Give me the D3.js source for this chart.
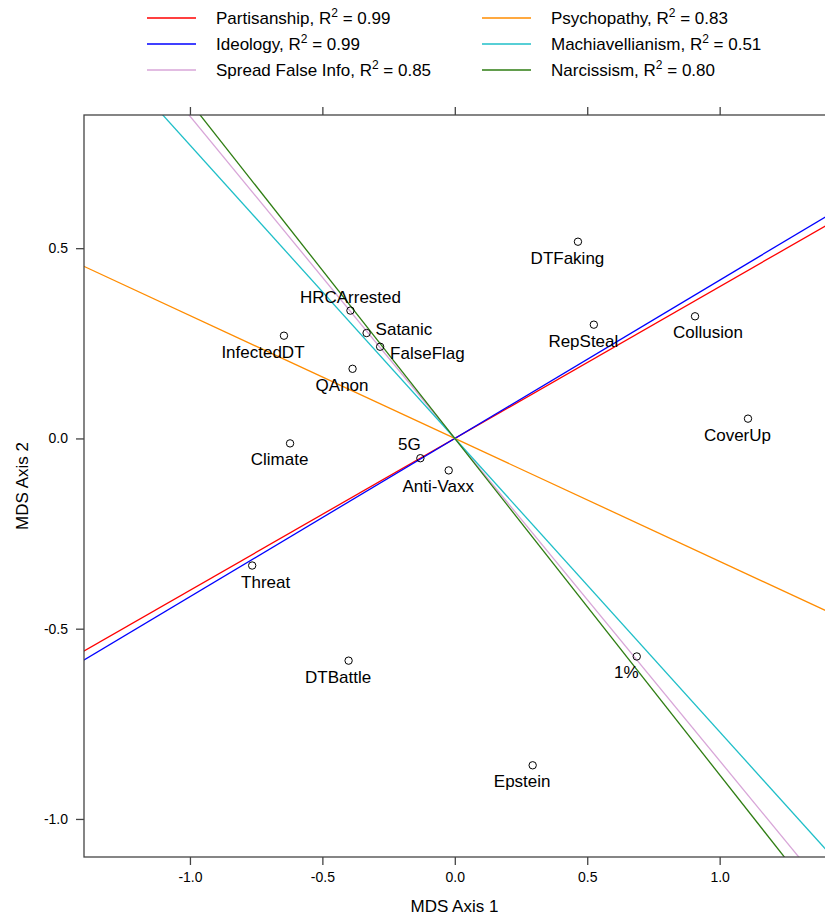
<!DOCTYPE html>
<html>
<head>
<meta charset="utf-8">
<script src="https://cdn.jsdelivr.net/npm/d3@7"></script>
<style>
  html, body { margin: 0; padding: 0; background: #fff; }
  svg { display: block; font-family: "Liberation Sans", Arial, sans-serif; }
</style>
</head>
<body>
<svg id="chart" width="825" height="915"></svg>
<script>
// ---- Data ----
const conspiracies = ["DTFaking","RepSteal","Collusion","CoverUp","HRCArrested","Satanic","FalseFlag","InfectedDT","QAnon","Climate","5G","Anti-Vaxx","Threat","DTBattle","1%","Epstein"];
const mdsAxis1 = [0.465, 0.525, 0.907, 1.107, -0.394, -0.333, -0.282, -0.645, -0.386, -0.622, -0.130, -0.023, -0.765, -0.401, 0.687, 0.294];
const mdsAxis2 = [0.517, 0.299, 0.321, 0.052, 0.336, 0.277, 0.241, 0.270, 0.183, -0.013, -0.052, -0.084, -0.334, -0.584, -0.573, -0.859];

const vectorNames = ["Partisanship","Ideology","Spread False Info","Psychopathy","Machiavellianism","Narcissism"];
const vectorR2 = ["0.99","0.99","0.85","0.83","0.51","0.80"];
const vectorSlopes = [0.399, 0.416, -0.847, -0.323, -0.771, -0.884];

const xTicks = [-1.0, -0.5, 0.0, 0.5, 1.0];
const yTicks = [-1.0, -0.5, 0.0, 0.5];

// ---- Styles / layout (not data) ----
const vectorColors = ["#ff0000","#0000ff","#d8a6d8","#ff8c00","#1fbfc8","#2e7d12"];
const labelPlacement = {
  "HRCArrested": {dx: 0, dy: -14, anchor: "middle"},
  "Satanic": {dx: 9, dy: -4, anchor: "start"},
  "FalseFlag": {dx: 10, dy: 6, anchor: "start"},
  "InfectedDT": {dx: -21, dy: 16, anchor: "middle"},
  "5G": {dx: -11, dy: -14, anchor: "middle"},
  "Collusion": {dx: 13, dy: 16, anchor: "middle"},
  "Threat": {dx: 13.5, dy: 16, anchor: "middle"}
};
const defaultPlacement = {dx: -10.5, dy: 16, anchor: "middle"};
const textColor = "#000";

const svg = d3.select("#chart");
const pLeft = 84, pRight = 826, pTop = 115, pBottom = 857;

const x = d3.scaleLinear().domain([-1.4, 1.4]).range([pLeft, pLeft + 741.6]);
const y = d3.scaleLinear().domain([-1.1, 0.85]).range([pBottom, pTop]);

// Clip
svg.append("defs").append("clipPath").attr("id", "plotclip")
  .append("rect").attr("x", pLeft).attr("y", pTop).attr("width", pRight - pLeft).attr("height", pBottom - pTop);

// Vector lines (through origin)
const lines = svg.append("g").attr("clip-path", "url(#plotclip)");
vectorSlopes.forEach((s, i) => {
  const x0 = -3, x1 = 3;
  lines.append("line")
    .attr("x1", x(x0)).attr("y1", y(s * x0))
    .attr("x2", x(x1)).attr("y2", y(s * x1))
    .attr("stroke", vectorColors[i]).attr("stroke-width", 1.3);
});

// Points
const pts = svg.append("g");
conspiracies.forEach((name, i) => {
  const px = x(mdsAxis1[i]), py = y(mdsAxis2[i]);
  pts.append("circle").attr("cx", px).attr("cy", py).attr("r", 3.7)
    .attr("fill", "none").attr("stroke", "#000").attr("stroke-width", 1);
  const p = labelPlacement[name] || defaultPlacement;
  pts.append("text").attr("x", px + p.dx).attr("y", py + p.dy + 6)
    .attr("text-anchor", p.anchor).attr("font-size", 17).attr("fill", textColor)
    .text(name);
});

// Frame
svg.append("rect").attr("x", pLeft).attr("y", pTop).attr("width", pRight - pLeft).attr("height", pBottom - pTop)
  .attr("fill", "none").attr("stroke", "#444").attr("stroke-width", 1.3);

// Axes
const fmt = d => d3.format(".1f")(d).replace("−", "-");
const xAxisB = d3.axisBottom(x).tickValues(xTicks).tickSize(8).tickPadding(7).tickFormat(fmt);
const gxb = svg.append("g").attr("transform", `translate(0,${pBottom})`).call(xAxisB);
const xAxisT = d3.axisTop(x).tickValues(xTicks).tickSize(8).tickFormat("");
const gxt = svg.append("g").attr("transform", `translate(0,${pTop})`).call(xAxisT);
const yAxisL = d3.axisLeft(y).tickValues(yTicks).tickSize(8).tickPadding(8).tickFormat(fmt);
const gyl = svg.append("g").attr("transform", `translate(${pLeft},0)`).call(yAxisL);
[gxb, gxt, gyl].forEach(g => {
  g.select(".domain").remove();
  g.selectAll(".tick line").attr("stroke", "#444").attr("stroke-width", 1.3);
  g.selectAll(".tick text").attr("font-size", 14).attr("fill", textColor)
    .attr("font-family", "'Liberation Sans', Arial, sans-serif");
});

// Axis titles
svg.append("text").attr("x", (pLeft + 825) / 2).attr("y", 912).attr("text-anchor", "middle")
  .attr("font-size", 17).attr("fill", textColor).text("MDS Axis 1");
svg.append("text").attr("transform", `translate(28,${(pTop + pBottom) / 2}) rotate(-90)`)
  .attr("text-anchor", "middle").attr("font-size", 17).attr("fill", textColor).text("MDS Axis 2");

// Legend
const legend = svg.append("g");
vectorNames.forEach((name, i) => {
  const col = Math.floor(i / 3), row = i % 3;
  const lx = col === 0 ? 147 : 482;
  const ly = 18 + row * 26;
  legend.append("line").attr("x1", lx).attr("x2", lx + 49).attr("y1", ly).attr("y2", ly)
    .attr("stroke", vectorColors[i]).attr("stroke-width", 1.5);
  const t = legend.append("text").attr("x", lx + 69).attr("y", ly + 6)
    .attr("font-size", 17).attr("fill", textColor);
  t.append("tspan").text(name + ", R");
  t.append("tspan").attr("dy", -7).attr("font-size", 12).text("2");
  t.append("tspan").attr("dy", 7).text(" = " + vectorR2[i]);
});
</script>
</body>
</html>
